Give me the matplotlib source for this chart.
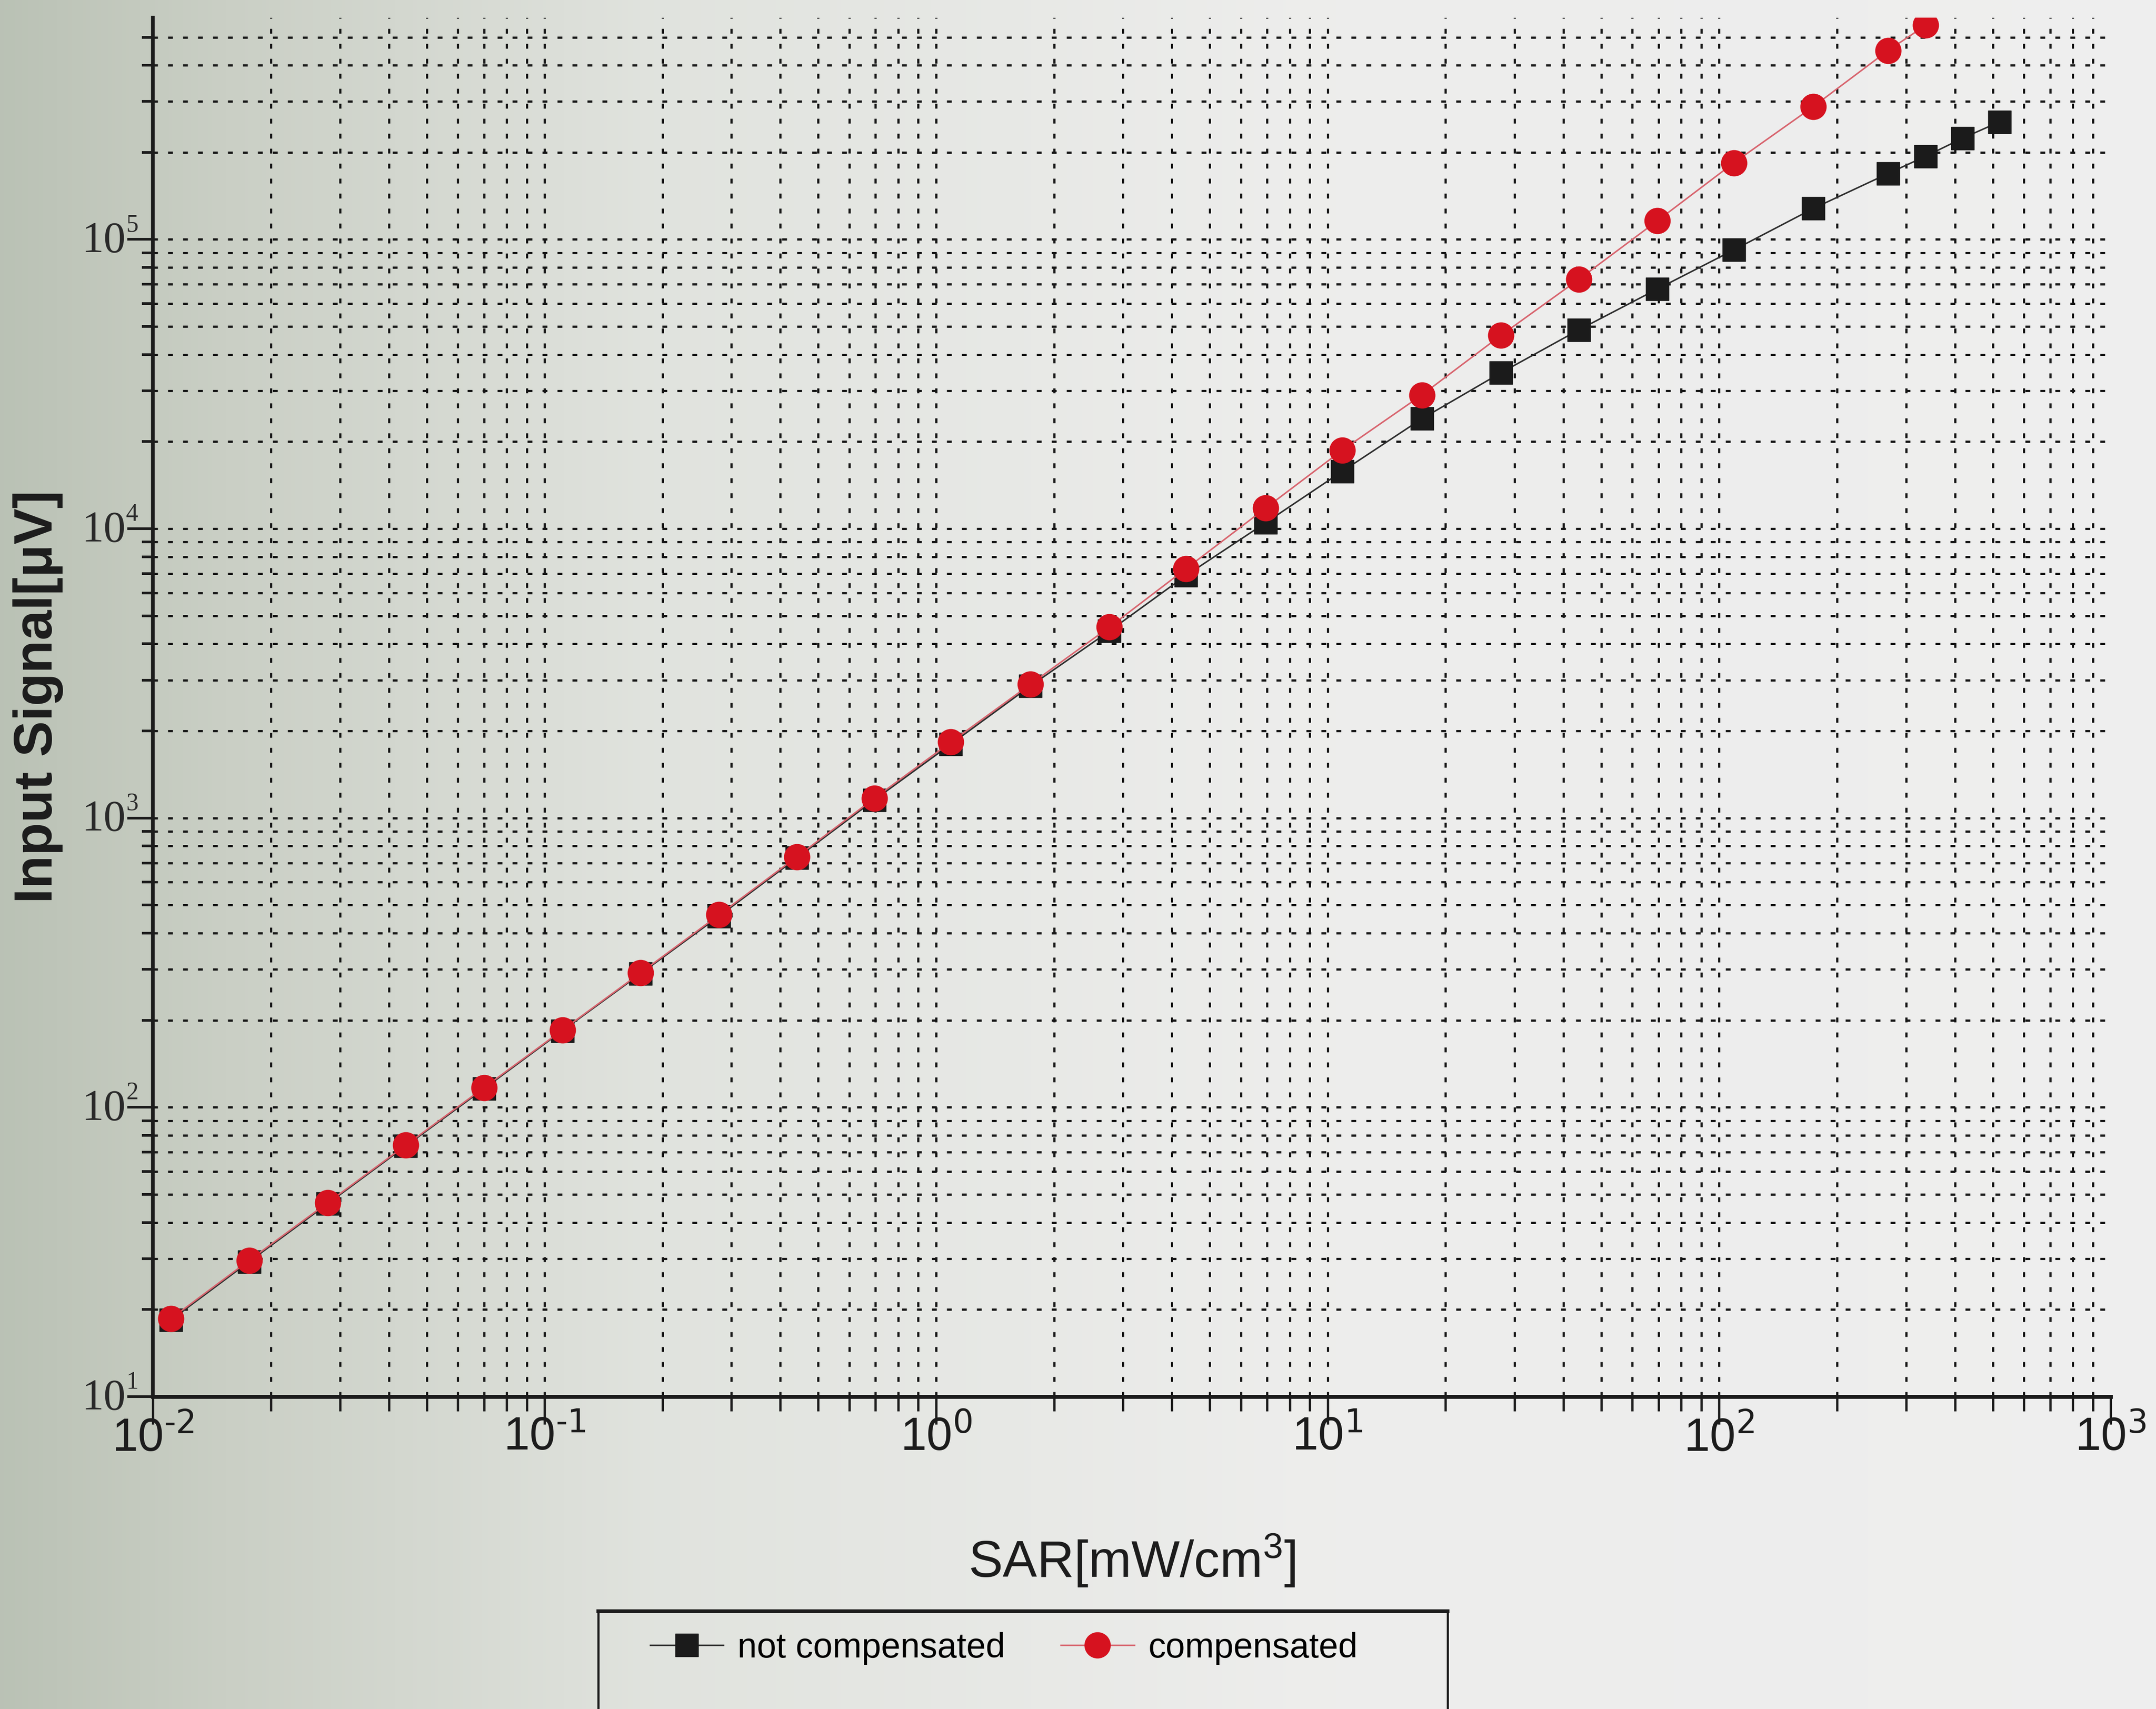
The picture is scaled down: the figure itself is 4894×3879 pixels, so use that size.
"""Input signal vs SAR, with and without compensation (log-log)"""

import numpy as np
import matplotlib
matplotlib.use('Agg')
import matplotlib.pyplot as plt
from matplotlib import font_manager
from matplotlib.lines import Line2D
from matplotlib.patches import Rectangle
from matplotlib.ticker import LogLocator, NullFormatter

# SAR [mW/cm^3] and input signal [uV]
sar = [0.0111, 0.0176, 0.0279, 0.0442, 0.0700, 0.111, 0.176, 0.279, 0.441,
       0.695, 1.09, 1.74, 2.77, 4.35, 6.95, 10.9, 17.4, 27.7, 43.8, 69.5,
       109, 174, 270, 337, 419, 520]
not_compensated = [18.4, 29.3, 46.4, 73.5, 116, 184, 290, 458, 728, 1155,
                   1800, 2860, 4430, 6900, 10500, 15800, 24000, 34600, 48700,
                   67400, 92000, 128000, 169000, 194000, 224000, 255000]
compensated = [18.6, 29.6, 46.8, 74, 117, 185, 292, 463, 735, 1170, 1830,
               2900, 4570, 7280, 11800, 18700, 29000, 46600, 72800, 116000,
               184000, 288000, 450000, 550000]

x_decades = [-2, -1, 0, 1, 2, 3]
y_decades = [1, 2, 3, 4, 5]
labels = ['not compensated', 'compensated']

names = {f.name for f in font_manager.fontManager.ttflist}
narrow = 'Liberation Sans Narrow' in names
SANS = 'Liberation Sans Narrow' if narrow else 'Liberation Sans'
xt_size = 88 if narrow else 76
xl_size = 100 if narrow else 84
lg_size = 68 if narrow else 57
INK = '#1c1c1c'

fig = plt.figure(figsize=(48.94, 38.80), dpi=100)

# paper tone, darker towards the left edge
bg = fig.add_axes([0, 0, 1, 1], zorder=-10)
stops = [0.0, 0.10, 0.30, 0.60, 1.0]
cols = [(0.73, 0.76, 0.71), (0.79, 0.81, 0.77), (0.88, 0.89, 0.87),
        (0.93, 0.93, 0.925), (0.935, 0.935, 0.935)]
xx = np.linspace(0, 1, 600)
row = np.stack([np.interp(xx, stops, [c[i] for c in cols]) for i in range(3)], axis=-1)
bg.imshow(np.repeat(row[None, :, :], 10, axis=0), aspect='auto', extent=[0, 1, 0, 1])
bg.axis('off')

ax = fig.add_axes([0.071, 0.1827, 0.908, 0.8068])
ax.set_facecolor('none')

l1, = ax.plot(sar, not_compensated, color='#2e2e2e', lw=2.5, marker='s', ms=37,
              mfc='#1b1b1b', mec='#1b1b1b', zorder=3)
l2, = ax.plot(sar[:len(compensated)], compensated, color='#d8646e', lw=2.5,
              marker='o', ms=42, mfc='#d6121f', mec='#d6121f', zorder=4)

ax.set_xscale('log')
ax.set_yscale('log')
ax.set_xlim(1e-2, 1e3)
ax.set_ylim(10, 5.85e5)

ax.set_xticks([10.0 ** d for d in x_decades])
ax.set_xticklabels([r'$\mathregular{10^{\text{%d}}}$' % d for d in x_decades],
                   family=SANS, fontsize=xt_size, color=INK)
ax.set_yticks([10.0 ** d for d in y_decades])
ax.set_yticklabels([])
for axis in (ax.xaxis, ax.yaxis):
    axis.set_minor_locator(LogLocator(base=10, subs=np.arange(2, 10), numticks=60))
    axis.set_minor_formatter(NullFormatter())

for side in ('top', 'right'):
    ax.spines[side].set_visible(False)
ax.spines['left'].set_linewidth(6)
ax.spines['bottom'].set_linewidth(6.5)
ax.spines['left'].set_color(INK)
ax.spines['bottom'].set_color(INK)

ax.tick_params(axis='x', which='major', direction='out', length=45, width=3.8,
               pad=-14, color=INK)
ax.tick_params(axis='x', which='minor', direction='out', length=24, width=3.8, color=INK)
ax.tick_params(axis='y', which='major', direction='out', length=42, width=4.3, color=INK)
ax.tick_params(axis='y', which='minor', direction='out', length=18, width=4.3, color=INK)

ax.grid(True, which='both', axis='both', color='#151515', lw=3.6,
        linestyle=(0, (2.2, 4.6)))

# y tick labels in a serif face: "10" with a raised exponent
for d in y_decades:
    ax.annotate('10', xy=(0, 10.0 ** d), xycoords=ax.get_yaxis_transform(),
                xytext=(-45, -2), textcoords='offset points', ha='right',
                va='center', fontsize=72, family='Liberation Serif', color='#2a2a2a')
    ax.annotate(str(d), xy=(0, 10.0 ** d), xycoords=ax.get_yaxis_transform(),
                xytext=(-44, 24), textcoords='offset points', ha='left',
                va='center', fontsize=40, family='Liberation Serif', color='#2a2a2a')

ax.set_xlabel(r'$\mathregular{SAR[mW/cm^3]}$', family=SANS, fontsize=xl_size, color=INK)
ax.xaxis.set_label_coords(0.5, -0.1185)
ax.xaxis.label.set_va('center')
ax.set_ylabel('Input Signal[μV]', family='Liberation Sans', fontweight='bold',
              fontsize=88, color=INK)
ax.yaxis.set_label_coords(-0.0587, 0.508)
ax.yaxis.label.set_va('center')

fig.legend([l1, l2], labels, loc='center left', bbox_to_anchor=(0.3016, 0.0356),
           ncol=2, frameon=False, borderpad=0, borderaxespad=0, handlelength=2.1,
           handletextpad=0.4, columnspacing=1.6, markerscale=1.0,
           prop=dict(family=SANS, size=lg_size))
fig.add_artist(Rectangle((0.2775, -0.1), 0.6714 - 0.2775, 0.0572 + 0.1,
                         transform=fig.transFigure, fill=False, lw=3.5, ec=INK))
fig.add_artist(Line2D([0.2775, 0.6714], [0.0572, 0.0572], transform=fig.transFigure,
                      lw=6, color=INK))

# no dotted line on top of the axis ends
fig.canvas.draw()
for t in ax.xaxis.get_major_ticks():
    if np.isclose(t.get_loc(), 1e3):
        t.gridline.set_visible(False)
for t in ax.yaxis.get_major_ticks():
    if np.isclose(t.get_loc(), 10):
        t.gridline.set_visible(False)

fig.savefig('out.png', dpi=100)
